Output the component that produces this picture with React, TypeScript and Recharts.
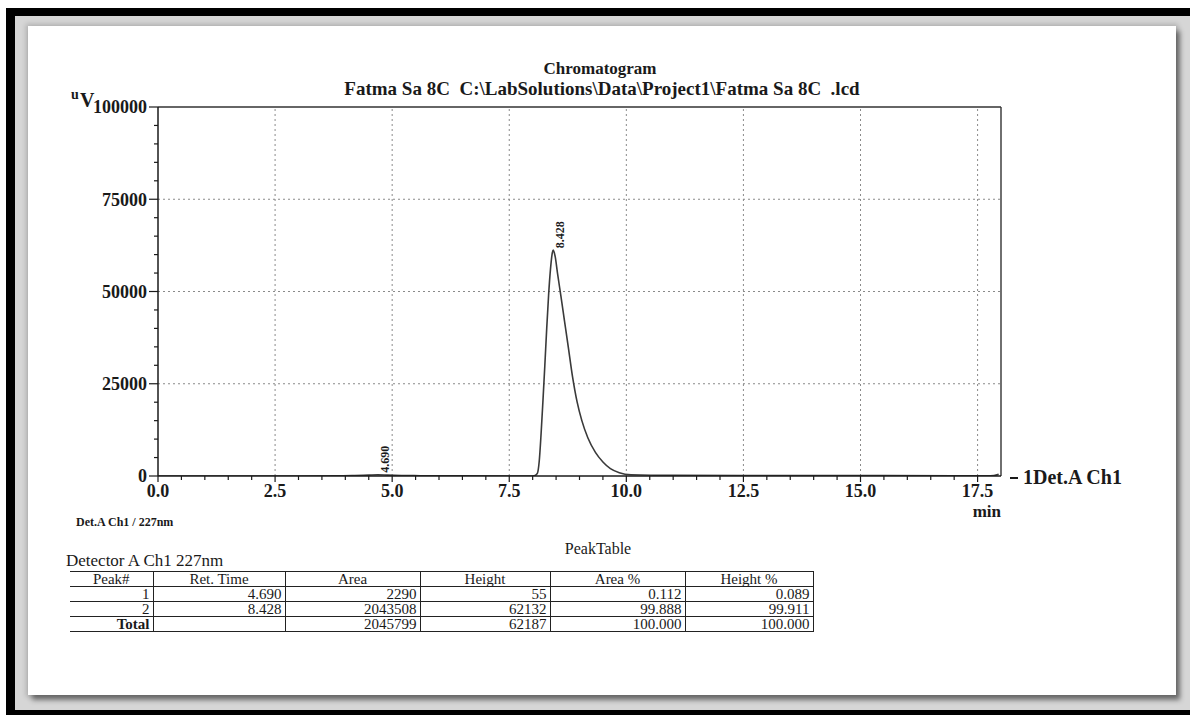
import React from "react";
import {
    ComposedChart,
    Line,
    Scatter,
    XAxis,
    YAxis,
    ReferenceLine
} from "recharts";

// trace (min, uV)
const times = [0, 1, 2, 3, 3.8, 4.2, 4.5, 4.69, 4.9, 5.2, 5.6, 6.5, 7.5, 7.95, 8.05, 8.1, 8.14, 8.18, 8.22, 8.26, 8.3, 8.34, 8.38, 8.42, 8.44, 8.48, 8.53, 8.6, 8.68, 8.76, 8.85, 8.95, 9.05, 9.18, 9.34, 9.5, 9.66, 9.85, 10.1, 11, 12.5, 14, 15.5, 17, 17.7, 17.85, 17.95];
const signal = [0, 0, 0, 0, 50, 150, 250, 320, 250, 150, 80, 30, 0, 0, 150, 700, 4000, 11500, 20500, 30000, 40000, 49000, 56000, 60500, 61200, 59500, 55000, 49000, 42000, 35000, 27000, 20000, 15000, 10300, 6400, 3800, 2000, 900, 350, 180, 150, 120, 100, 80, 60, 150, 500];

const peakTimes = [4.69, 8.44];
const peakLevels = [320, 61200];
const peakNames = ["4.690", "8.428"];

const xTicks = [0, 0.5, 1, 1.5, 2, 2.5, 3, 3.5, 4, 4.5, 5, 5.5, 6, 6.5, 7, 7.5, 8, 8.5, 9, 9.5, 10, 10.5, 11, 11.5, 12, 12.5, 13, 13.5, 14, 14.5, 15, 15.5, 16, 16.5, 17, 17.5];
const xLabels = [0, 2.5, 5, 7.5, 10, 12.5, 15, 17.5];
const yTicks = [0, 5000, 10000, 15000, 20000, 25000, 30000, 35000, 40000, 45000, 50000, 55000, 60000, 65000, 70000, 75000, 80000, 85000, 90000, 95000, 100000];
const yLabels = [0, 25000, 50000, 75000, 100000];

const tableHeaders = ["Peak#", "Ret. Time", "Area", "Height", "Area %", "Height %"];
const peakNo = ["1", "2", "Total"];
const retTimes = ["4.690", "8.428", ""];
const areas = ["2290", "2043508", "2045799"];
const heights = ["55", "62132", "62187"];
const areaPct = ["0.112", "99.888", "100.000"];
const heightPct = ["0.089", "99.911", "100.000"];
const colWidths = [83, 132, 135, 130, 135, 128];

const trace = times.map((t, i) => ({ t, v: signal[i] }));
const peaks = peakTimes.map((t, i) => ({ t, v: peakLevels[i], name: peakNames[i] }));
const rows = peakNo.map((p, i) => [p, retTimes[i], areas[i], heights[i], areaPct[i], heightPct[i]]);

const serif = '"Liberation Serif", "Times New Roman", serif';
const ink = "#1a1a1a";
const rule = "1.5px solid #222";

const YTick = (props: any) => {
    const { x, y, payload } = props;
    const major = yLabels.includes(payload.value);
    return (
        <g>
            <line x1={x} x2={x - (major ? 9 : 4)} y1={y} y2={y} stroke={ink} strokeWidth={1.2} />
            {major && (
                <text x={x - 11} y={y} dy="0.35em" textAnchor="end" fontFamily={serif}
                      fontWeight="bold" fontSize={18} fill={ink}>
                    {payload.value}
                </text>
            )}
        </g>
    );
};

const XTick = (props: any) => {
    const { x, y, payload } = props;
    const major = xLabels.includes(payload.value);
    return (
        <g>
            <line x1={x} x2={x} y1={y} y2={y + (major ? 6 : 4)} stroke={ink} strokeWidth={1.2} />
            {major && (
                <text x={x} y={y + 21} textAnchor="middle" fontFamily={serif}
                      fontWeight="bold" fontSize={18} fill={ink}>
                    {payload.value.toFixed(1)}
                </text>
            )}
        </g>
    );
};

const PeakLabel = (props: any) => {
    const { cx, cy, payload } = props;
    const x = cx + 11;
    const y = cy - 2;
    return (
        <text x={x} y={y} transform={`rotate(-90 ${x} ${y})`} fontFamily={serif}
              fontWeight="bold" fontSize={12} fill={ink}>
            {payload.name}
        </text>
    );
};

function Txt({ x, y, size, bold, children, anchor = "center" }: any) {
    const tx = anchor === "center" ? "-50%" : anchor === "end" ? "-100%" : "0";
    return (
        <div style={{
            position: "absolute", left: x, top: y, transform: `translate(${tx}, -50%)`,
            fontFamily: serif, fontSize: size, fontWeight: bold ? "bold" : "normal",
            lineHeight: 1, whiteSpace: "pre", color: ink
        }}>
            {children}
        </div>
    );
}

export default function App() {
    const gridX = xLabels.filter((v) => v > 0);
    const gridY = yLabels.filter((v) => v > 0 && v < 100000);

    return (
        <div style={{ position: "absolute", left: 0, top: 0, width: 1190, height: 715, background: "#fff", overflow: "hidden" }}>
            <div style={{ position: "absolute", left: 6, top: 8, right: 0, bottom: 0, background: "#000" }} />
            <div style={{ position: "absolute", left: 15, top: 16, right: 0, bottom: 5, background: "#d6d6d6" }} />
            <div style={{
                position: "absolute", left: 28, top: 26, width: 1148, height: 669, background: "#fff",
                boxShadow: "0 0 5px 2px rgba(0,0,0,0.18), 4px 5px 5px rgba(0,0,0,0.45)"
            }} />

            <Txt x={600} y={68} size={17} bold>Chromatogram</Txt>
            <Txt x={602} y={88} size={19} bold>{"Fatma Sa 8C  C:\\LabSolutions\\Data\\Project1\\Fatma Sa 8C  .lcd"}</Txt>

            <ComposedChart width={1190} height={715} data={trace}
                           margin={{ top: 107, right: 189, bottom: 209, left: 98 }}
                           style={{ position: "absolute", left: 0, top: 0 }}>
                <XAxis dataKey="t" type="number" domain={[0, 18]} ticks={xTicks} interval={0}
                       height={30} tickSize={0} tickMargin={0} tick={<XTick />}
                       axisLine={{ stroke: ink, strokeWidth: 1.5 }} tickLine={false} allowDataOverflow />
                <YAxis type="number" domain={[0, 100000]} ticks={yTicks} interval={0}
                       width={60} tickSize={0} tickMargin={0} tick={<YTick />}
                       axisLine={{ stroke: ink, strokeWidth: 1.5 }} tickLine={false} allowDataOverflow />
                {gridX.map((v) => (
                    <ReferenceLine key={"gx" + v} x={v} stroke="#8a8a8a" strokeDasharray="2 3" />
                ))}
                {gridY.map((v) => (
                    <ReferenceLine key={"gy" + v} y={v} stroke="#8a8a8a" strokeDasharray="2 3" />
                ))}
                <ReferenceLine y={100000} stroke="#333" strokeWidth={1.4} />
                <ReferenceLine x={18} stroke="#333" strokeWidth={1.4} />
                <Line dataKey="v" type="monotone" stroke="#3a3a3a" strokeWidth={1.6}
                      dot={false} isAnimationActive={false} />
                <Scatter data={peaks} dataKey="v" shape={<PeakLabel />} isAnimationActive={false} />
            </ComposedChart>

            <Txt x={71} y={95} size={14} bold anchor="start">u</Txt>
            <Txt x={80} y={100} size={20} bold anchor="start">V</Txt>

            <Txt x={1001} y={511} size={17} bold anchor="end">min</Txt>
            <div style={{ position: "absolute", left: 1010, top: 477, width: 8, height: 1.5, background: ink }} />
            <Txt x={1023} y={477} size={20} bold anchor="start">1Det.A Ch1</Txt>
            <Txt x={76} y={522} size={12} bold anchor="start">Det.A Ch1 / 227nm</Txt>

            <Txt x={598} y={549} size={16}>PeakTable</Txt>
            <Txt x={66} y={560} size={17} anchor="start">Detector A Ch1 227nm</Txt>

            <table style={{
                position: "absolute", left: 70, top: 571, borderCollapse: "collapse",
                fontFamily: serif, fontSize: 15, color: ink, tableLayout: "fixed"
            }}>
                <colgroup>
                    {colWidths.map((w, i) => <col key={i} style={{ width: w }} />)}
                </colgroup>
                <thead>
                    <tr style={{ height: 15 }}>
                        {tableHeaders.map((h, i) => (
                            <th key={h} style={{
                                fontWeight: "normal", padding: "0 2px", lineHeight: "14px",
                                borderTop: rule, borderBottom: rule,
                                borderLeft: i === 0 ? "none" : rule,
                                borderRight: rule, textAlign: "center"
                            }}>{h}</th>
                        ))}
                    </tr>
                </thead>
                <tbody>
                    {rows.map((r, ri) => (
                        <tr key={ri} style={{ height: 15 }}>
                            {r.map((c, ci) => (
                                <td key={ci} style={{
                                    padding: "0 3px", lineHeight: "14px", textAlign: "right",
                                    fontWeight: ci === 0 && ri === 2 ? "bold" : "normal",
                                    borderBottom: rule,
                                    borderLeft: ci === 0 ? "none" : rule,
                                    borderRight: rule
                                }}>{c}</td>
                            ))}
                        </tr>
                    ))}
                </tbody>
            </table>
        </div>
    );
}
